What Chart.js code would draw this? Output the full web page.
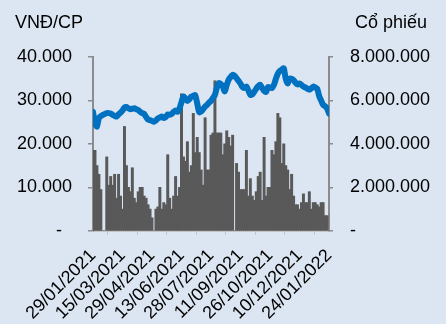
<!DOCTYPE html>
<html>
<head>
<meta charset="utf-8">
<script src="https://cdn.jsdelivr.net/npm/chart.js@4.4.1/dist/chart.umd.min.js"></script>
<style>
  html, body { margin: 0; padding: 0; background: #dce6f2; }
  #wrap { width: 446px; height: 324px; }
</style>
</head>
<body>
<div id="wrap"><canvas id="priceChart" width="446" height="324"></canvas></div>
<script>
// x axis: one sample every 3 calendar days from 29/01/2021
const stepDays = 3
const tickLabels = ['29/01/2021', '15/03/2021', '29/04/2021', '13/06/2021', '28/07/2021',
  '11/09/2021', '26/10/2021', '10/12/2021', '24/01/2022']

// closing price, VND per share
const prices = [
  27400, 24800, 24000, 26000, 26400, 26700, 26900, 27100, 27100, 27000,
  26700, 26500, 26300, 26800, 27200, 27700, 28400, 28500, 28200, 28000,
  28100, 28200, 28000, 27800, 27400, 27100, 26900, 26200, 25600, 25500,
  25300, 25100, 25400, 25900, 26100, 26300, 26000, 26200, 26800, 26700,
  26900, 27400, 27700, 27400, 28200, 29600, 30900, 30500, 29900, 30300,
  30900, 31100, 31200, 29300, 27300, 27500, 28000, 28600, 29000, 29500,
  29900, 30600, 31300, 33000, 34000, 33800, 33200, 32100, 33600, 34800,
  35400, 35900, 35700, 35100, 34500, 33900, 33100, 32900, 33200, 32300,
  31300, 31400, 32000, 32700, 33300, 33600, 32900, 32200, 32000, 33100,
  33000, 32900, 33600, 35000, 36200, 36800, 37100, 37400, 35000, 33900,
  35000, 35000, 34700, 34100, 33700, 33900, 33600, 33200, 33000, 32700,
  32500, 32800, 33200, 33000, 32700, 31000, 30000, 29000, 28700, 28200,
  27000
]

// traded volume, shares (0 = market holiday)
const volumes = [
  3700000, 3700000, 3000000, 2600000, 1900000, 0, 0, 3400000, 2100000, 2500000,
  2100000, 2600000, 1500000, 2600000, 1600000, 1000000, 4800000, 3000000, 2000000, 1800000,
  2900000, 1500000, 1300000, 1800000, 2000000, 2000000, 1600000, 1500000, 1200000, 1000000,
  600000, 0, 1000000, 1100000, 2000000, 1000000, 1300000, 1200000, 3500000, 1500000,
  1000000, 1600000, 2500000, 1600000, 2000000, 6300000, 3400000, 3200000, 4100000, 2700000,
  3000000, 5400000, 3600000, 4300000, 3600000, 2800000, 2100000, 5200000, 2800000, 2800000,
  4400000, 4500000, 6900000, 4500000, 4500000, 4500000, 3500000, 4000000, 4600000, 4300000,
  3900000, 4400000, 0, 3100000, 2700000, 1900000, 1900000, 1900000, 3700000, 1600000,
  2400000, 1600000, 1400000, 1800000, 2500000, 2700000, 1400000, 4300000, 1600000, 2000000,
  2000000, 3700000, 3500000, 4100000, 5400000, 5200000, 3100000, 4000000, 3000000, 2800000,
  1900000, 2600000, 1600000, 1200000, 1200000, 1000000, 1300000, 1700000, 1300000, 1300000,
  1800000, 1000000, 1300000, 1300000, 1200000, 1100000, 1300000, 1300000, 700000, 700000,
  null
]

const FONT = '"Liberation Sans", Arial, sans-serif'
Chart.defaults.font.family = FONT
Chart.defaults.font.size = 18
Chart.defaults.color = '#000'

function dotted(value) {
  return String(value).replace(/\B(?=(\d{3})+(?!\d))/g, '.')
}

// Horizontal unit captions above both y axes
const axisCaptions = {
  id: 'axisCaptions',
  afterDraw(chart) {
    const ctx = chart.ctx
    ctx.save()
    ctx.font = '18px ' + FONT
    ctx.fillStyle = '#000'
    ctx.textAlign = 'left'
    ctx.textBaseline = 'alphabetic'
    ctx.fillText('VNĐ/CP', 15, 28)
    ctx.fillText('Cổ phiếu', 355, 28)
    ctx.restore()
  }
}

const axisGray = '#8c8c8c'

new Chart(document.getElementById('priceChart'), {
  type: 'bar',
  data: {
    datasets: [
      {
        type: 'line',
        label: 'Giá',
        data: prices.map((p, i) => ({ x: i * stepDays, y: p })),
        yAxisID: 'y',
        borderColor: '#0070c0',
        borderWidth: 6,
        pointRadius: 0,
        tension: 0.3,
        borderJoinStyle: 'round',
        borderCapStyle: 'round',
        order: 0
      },
      {
        type: 'bar',
        label: 'Khối lượng',
        data: volumes.map((v, i) => ({ x: i * stepDays, y: v })),
        yAxisID: 'y1',
        backgroundColor: '#595959',
        barPercentage: 1,
        categoryPercentage: 1,
        inflateAmount: 0.5,
        order: 1
      }
    ]
  },
  options: {
    responsive: false,
    animation: false,
    layout: { padding: { top: 57, left: 0, right: 0, bottom: 0 } },
    plugins: { legend: { display: false }, tooltip: { enabled: false } },
    scales: {
      x: {
        type: 'linear',
        min: 0,
        max: (tickLabels.length - 1) * 45,
        offset: false,
        ticks: {
          stepSize: 45,
          autoSkip: false,
          minRotation: 45,
          maxRotation: 45,
          padding: 10,
          callback: v => tickLabels[Math.round(v / 45)]
        },
        grid: { drawOnChartArea: false, drawTicks: true, tickLength: 4, color: '#c4c4c4' },
        border: { display: true, color: '#c4c4c4', width: 1, dash: [4, 3] },
        afterFit: s => { s.height = 93 }
      },
      y: {
        position: 'left',
        min: 0,
        max: 40000,
        ticks: {
          stepSize: 10000,
          padding: 16,
          callback: v => v === 0 ? '-\u00a0\u00a0' : dotted(v)
        },
        grid: { drawOnChartArea: false, drawTicks: true, tickLength: 5, color: axisGray, lineWidth: 1.5 },
        border: { display: true, color: axisGray, width: 2 },
        afterFit: s => { s.width = 93 }
      },
      y1: {
        position: 'right',
        min: 0,
        max: 8000000,
        ticks: {
          stepSize: 2000000,
          padding: 17,
          callback: v => v === 0 ? '-' : dotted(v)
        },
        grid: { drawOnChartArea: false, drawTicks: true, tickLength: 4, color: axisGray, lineWidth: 1.5 },
        border: { display: true, color: axisGray, width: 2 },
        afterFit: s => { s.width = 117 }
      }
    }
  },
  plugins: [axisCaptions]
})
</script>
</body>
</html>
